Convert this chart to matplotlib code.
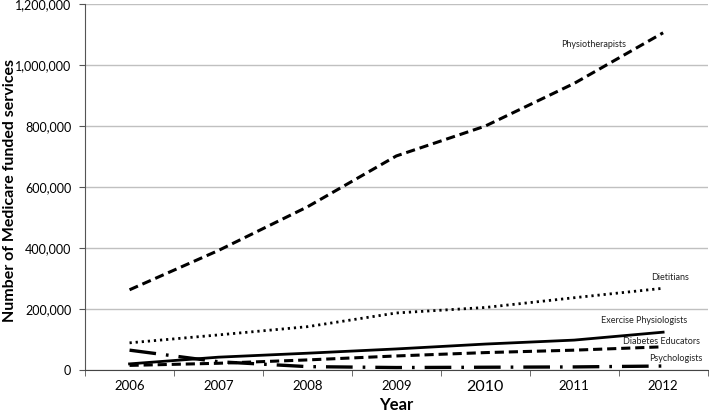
import matplotlib.pyplot as plt
from matplotlib.ticker import FuncFormatter, FixedLocator

years = ["2006", "2007", "2008", "2009", "2010", "2011", "2012"]
physiotherapists = [263000, 392000, 535000, 702000, 800000, 940000, 1106000]
dietitians = [89000, 115000, 142000, 187000, 205000, 237000, 268000]
exercise_physiologists = [20000, 42000, 55000, 69000, 85000, 98000, 124000]
diabetes_educators = [15000, 22000, 33000, 46000, 57000, 65000, 76000]
psychologists = [65000, 27000, 11000, 8000, 9000, 10000, 13000]

plt.rcParams['font.family'] = ['Lato', 'DejaVu Sans']

fig = plt.figure(figsize=(7.09, 4.12), dpi=100)
ax = fig.add_axes([0.12, 0.102, 0.878, 0.888])
x = list(range(len(years)))

ax.plot(x, physiotherapists, color='black', lw=2.2, linestyle=(0, (3, 1.6)))
ax.plot(x, dietitians, color='black', lw=2.0, linestyle=(0, (0.8, 1.4)))
ax.plot(x, exercise_physiologists, color='black', lw=2.0, linestyle='-')
ax.plot(x, diabetes_educators, color='black', lw=2.2, linestyle=(0, (3, 1.6)))
ax.plot(x, psychologists, color='black', lw=2.4, linestyle=(0, (8, 3, 0.8, 3)))

lab = dict(fontsize=6.5, ha='center', va='center', color='#222222')
ax.text(5.22, 1069000, "Physiotherapists", **lab)
ax.text(6.08, 302000, "Dietitians", **lab)
ax.text(5.79, 161000, "Exercise Physiologists", **lab)
ax.text(5.98, 95000, "Diabetes Educators", **lab)
ax.text(6.14, 39000, "Psychologists", **lab)

ax.set_xlim(-0.5, 6.5)
ax.set_ylim(0, 1200000)
ax.set_xticks(x)
ax.set_xticklabels(years, fontsize=9.5)
ax.get_xticklabels()[4].set_fontsize(11.5)
ax.xaxis.set_minor_locator(FixedLocator([i - 0.5 for i in range(len(years) + 1)]))
ax.tick_params(axis='x', which='major', length=0, pad=7)
ax.tick_params(axis='x', which='minor', length=4, direction='out', color='#555555')
ax.set_yticks(range(0, 1200001, 200000))
ax.yaxis.set_major_formatter(FuncFormatter(lambda v, p: f"{int(v):,}"))
ax.tick_params(axis='y', labelsize=9, length=4, color='#555555', pad=6)

ax.grid(axis='y', color='#c0c0c0', lw=1.0)
ax.set_axisbelow(True)
for s in ['top', 'right']:
    ax.spines[s].set_visible(False)
ax.spines['left'].set_color('#555555')
ax.spines['bottom'].set_color('#444444')

ax.set_xlabel("Year", fontsize=12, fontweight='bold')
ax.xaxis.set_label_coords(0.5, -0.074)
ax.set_ylabel("Number of Medicare funded services", fontsize=11.5, fontweight='bold', va='center')
ax.yaxis.set_label_coords(-0.12, 0.49)

fig.savefig("out.png", dpi=100)
plt.close(fig)
